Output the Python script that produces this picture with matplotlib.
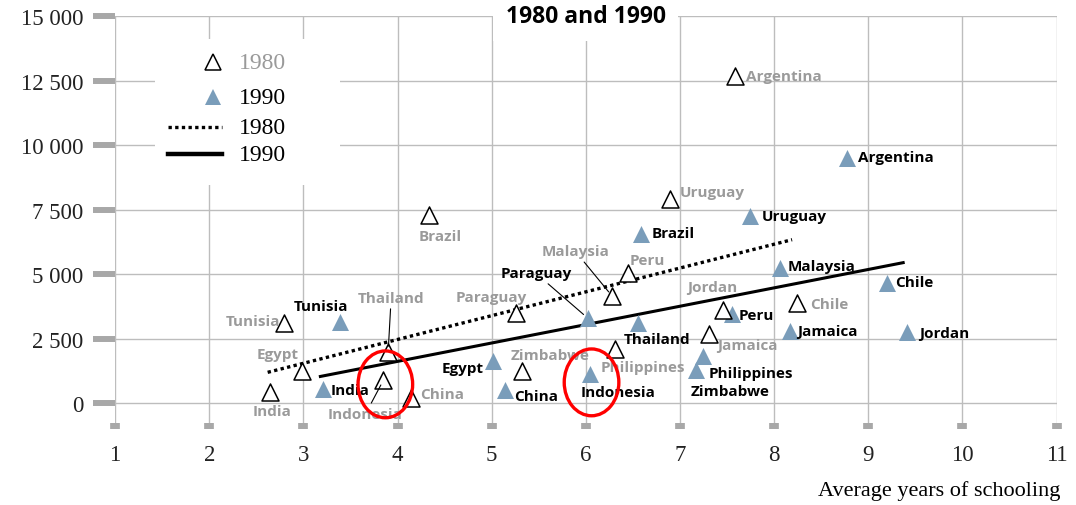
import matplotlib
matplotlib.use("Agg")
import matplotlib.pyplot as plt
from matplotlib.patches import Ellipse, Rectangle
from matplotlib.lines import Line2D

# GDP per capita vs average years of schooling, 1980 and 1990
countries80 = ["Argentina", "Brazil", "Uruguay", "Peru", "Malaysia", "Paraguay", "Tunisia",
               "Jordan", "Chile", "Jamaica", "Thailand", "Philippines", "Egypt", "Zimbabwe",
               "Indonesia", "India", "China"]
school80 = [7.58, 4.33, 6.89, 6.45, 6.28, 5.26, 2.79, 7.46, 8.24, 7.31, 3.90, 6.31, 2.99, 5.32,
            3.85, 2.65, 4.14]
gdp80 = [12700, 7300, 7900, 5050, 4150, 3500, 3100, 3600, 3900, 2700, 2000, 2100, 1250, 1250,
         900, 450, 200]

countries90 = ["Argentina", "Uruguay", "Brazil", "Malaysia", "Chile", "Paraguay", "Tunisia",
               "Peru", "Thailand", "Jamaica", "Jordan", "Philippines", "Egypt", "Zimbabwe",
               "Indonesia", "India", "China"]
school90 = [8.77, 7.74, 6.59, 8.06, 9.20, 6.02, 3.39, 7.55, 6.55, 8.17, 9.41, 7.24, 5.01, 7.17,
            6.04, 3.21, 5.14]
gdp90 = [9500, 7250, 6550, 5250, 4650, 3300, 3150, 3450, 3100, 2800, 2750, 1850, 1650, 1300,
         1150, 550, 500]

# fitted lines (end points)
fit80_x = [2.62, 8.19]
fit80_y = [1200, 6340]
fit90_x = [3.18, 9.37]
fit90_y = [1040, 5450]

# label offsets in pixels (dx, dy, ha, leader line)
off80 = {"Argentina": (11, 0, "left", False), "Brazil": (12, -21, "center", False),
         "Uruguay": (10, 7, "left", False), "Peru": (1, 13, "left", False),
         "Malaysia": (-37, 45, "center", True), "Paraguay": (-25, 16, "center", False),
         "Tunisia": (-3, 2, "right", False), "Jordan": (-11, 23, "center", False),
         "Chile": (13, -1, "left", False), "Jamaica": (8, -11, "left", False),
         "Thailand": (3, 54, "center", True), "Philippines": (-14, -18, "left", False),
         "Egypt": (-25, 17, "center", False), "Zimbabwe": (28, 16, "center", False),
         "Indonesia": (-18, -34, "center", True), "India": (2, -19, "center", False),
         "China": (9, 4, "left", False)}
off90 = {"Argentina": (11, 1, "left", False), "Uruguay": (12, 0, "left", False),
         "Brazil": (10, 1, "left", False), "Malaysia": (8, 2, "left", False),
         "Chile": (8, 1, "left", False), "Paraguay": (-52, 45, "center", True),
         "Tunisia": (-19, 16, "center", False), "Peru": (7, -1, "left", False),
         "Thailand": (-14, -16, "left", False), "Jamaica": (7, 0, "left", False),
         "Jordan": (12, -1, "left", False), "Philippines": (6, -17, "left", False),
         "Egypt": (-9, -7, "right", False), "Zimbabwe": (34, -21, "center", False),
         "Indonesia": (28, -18, "center", False), "India": (7, -1, "left", False),
         "China": (9, -6, "left", False)}

blue = "#7a9dba"
grey_txt = "#9a9a9a"
grid_c = "#bdbdbd"
tick_c = "#a8a8a8"
serif = "Liberation Serif"
sans = "Open Sans"

fig = plt.figure(figsize=(10.76, 5.06), dpi=100)
ax = fig.add_axes([0.107, 0.150, 0.875, 0.816])
ax.set_xlim(1, 11)
ax.set_ylim(-1000, 15000)
for s in ax.spines.values():
    s.set_visible(False)

ax.set_xticks(range(1, 12))
ax.set_yticks([0, 2500, 5000, 7500, 10000, 12500, 15000])
ax.set_yticklabels(["0", "2 500", "5 000", "7 500", "10 000", "12 500", "15 000"])
ax.grid(True, color=grid_c, lw=1, zorder=0)
ax.set_axisbelow(True)
ax.tick_params(axis="y", length=16, width=4.3, color=tick_c, direction="out", pad=7,
               labelsize=16.5)
ax.tick_params(axis="x", length=4, width=7, color=tick_c, direction="in", pad=11,
               labelsize=16.5)
for lab in ax.get_xticklabels() + ax.get_yticklabels():
    lab.set_fontfamily(serif)
    lab.set_color("#222222")

ax.plot(fit80_x, fit80_y, color="black", ls=(0, (1, 1)), lw=2.4, zorder=3)
ax.plot(fit90_x, fit90_y, color="black", ls="-", lw=2.2, zorder=3)

ax.scatter(school90, gdp90, marker="^", s=150, color=blue, lw=0, zorder=4)
ax.scatter(school80, gdp80, marker="^", s=150, facecolor="white", edgecolor="black",
           lw=1.1, zorder=5)

for names, xs, ys, offs, col in [(countries80, school80, gdp80, off80, grey_txt),
                                 (countries90, school90, gdp90, off90, "black")]:
    for n, x, y in zip(names, xs, ys):
        dx, dy, ha, lead = offs[n]
        ap = None
        if lead:
            ap = dict(arrowstyle="-", color="black", lw=0.8, shrinkA=1, shrinkB=4)
        ax.annotate(n, (x, y), xytext=(dx, dy), textcoords="offset pixels", ha=ha,
                    va="center", fontsize=11, fontweight="bold", color=col,
                    family=sans, arrowprops=ap, zorder=6)

# legend block
ax.add_patch(Rectangle((0.042, 0.591), 0.197, 0.353, transform=ax.transAxes,
                       facecolor="white", edgecolor="none", zorder=2))
ax.add_line(Line2D([0.104], [0.889], transform=ax.transAxes, marker="^", ms=12,
                   mfc="white", mec="black", mew=1.1, ls="none", zorder=7))
ax.add_line(Line2D([0.104], [0.804], transform=ax.transAxes, marker="^", ms=12,
                   mfc=blue, mec=blue, mew=0, ls="none", zorder=7))
ax.add_line(Line2D([0.056, 0.114], [0.731, 0.731], transform=ax.transAxes, color="black",
                   ls=(0, (1, 1)), lw=2.4, zorder=7))
ax.add_line(Line2D([0.056, 0.114], [0.666, 0.666], transform=ax.transAxes, color="black",
                   lw=3.2, zorder=7))
for yy, txt, col in [(0.889, "1980", grey_txt), (0.804, "1990", "black"),
                     (0.731, "1980", "black"), (0.666, "1990", "black")]:
    ax.text(0.131, yy, txt, transform=ax.transAxes, ha="left", va="center", fontsize=17,
            family=serif, color=col, zorder=7)

# title in white box on top grid line
ax.text(0.5, 1.0, "1980 and 1990", transform=ax.transAxes, ha="center", va="center",
        fontsize=16.5, fontweight="bold", family=sans, zorder=7,
        bbox=dict(facecolor="white", edgecolor="none", pad=9))

# highlight circles
ax.add_patch(Ellipse((3.87, 734), 0.58, 2589, facecolor="none", edgecolor="red", lw=2.4,
                     zorder=8))
ax.add_patch(Ellipse((6.06, 811), 0.58, 2589, facecolor="none", edgecolor="red", lw=2.4,
                     zorder=8))

fig.text(1060 / 1076, 1 - 491 / 506, "Average years of schooling", ha="right", va="center",
         fontsize=16, family=serif)

fig.savefig("out.png", dpi=100)
